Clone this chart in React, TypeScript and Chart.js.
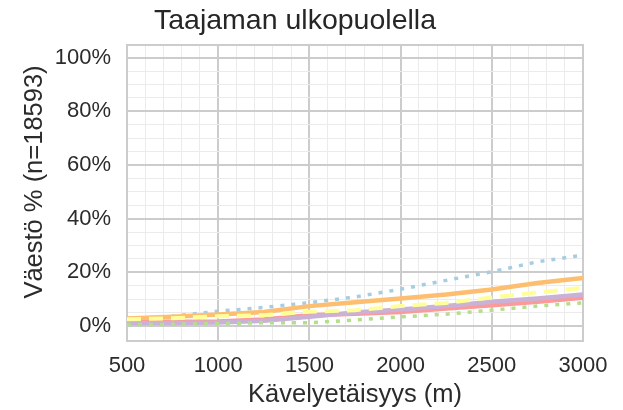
import React, { useEffect, useRef } from "react";
import { Chart, registerables } from "chart.js";

Chart.register(...registerables);

const titleText = "Taajaman ulkopuolella";
const xTitle = "Kävelyetäisyys (m)";
const yTitle = "Väestö % (n=18593)";

const distances = [500, 750, 1000, 1250, 1500, 1750, 2000, 2250, 2500, 2750, 3000];
const blueDotted = [2.6, 3.6, 5.5, 6.9, 8.7, 10.8, 13.7, 17.0, 20.2, 23.9, 26.4];
const orangeSolid = [2.8, 3.4, 4.3, 5.2, 7.4, 8.8, 10.2, 11.7, 13.6, 16.0, 17.9];
const yellowDashed = [2.5, 2.9, 3.6, 4.0, 5.3, 5.9, 7.4, 8.6, 10.6, 12.5, 14.2];
const purpleSolid = [1.0, 1.1, 1.3, 1.9, 3.4, 5.0, 6.1, 7.4, 9.0, 10.2, 11.7];
const pinkSolid = [1.3, 1.6, 1.7, 2.4, 4.0, 4.6, 5.2, 6.5, 7.7, 9.0, 10.5];
const greenDotted = [0.5, 0.6, 0.9, 1.2, 1.2, 2.2, 3.4, 4.4, 5.9, 7.4, 8.6];

const xMajorTicks = [500, 1000, 1500, 2000, 2500, 3000];
const yMajorTicks = [0, 20, 40, 60, 80, 100];

const X_MIN = 500;
const X_MAX = 3000;
const Y_MIN = -5.6;
const Y_MAX = 104.7;

const FONT = "'Liberation Sans', Arial, sans-serif";

function range(a: number, b: number, step: number) {
  const out: number[] = [];
  for (let v = a; v <= b + 1e-9; v += step) out.push(Math.round(v * 1000) / 1000);
  return out;
}

export default function App() {
  const ref = useRef<HTMLCanvasElement | null>(null);

  useEffect(() => {
    document.body.style.margin = "0";
    const canvas = ref.current;
    if (!canvas) return;

    const mk = (
      label: string,
      data: number[],
      color: string,
      width: number,
      dash: number[]
    ) => ({
      label,
      data: distances.map((d, i) => ({ x: d, y: data[i] })),
      borderColor: color,
      backgroundColor: color,
      borderWidth: width,
      borderDash: dash,
      borderCapStyle: "butt" as const,
      pointRadius: 0,
      fill: false,
      tension: 0,
    });

    const frame = {
      id: "frame",
      beforeDatasetsDraw(chart: any) {
        const { ctx, chartArea } = chart;
        ctx.save();
        ctx.strokeStyle = "#cccccc";
        ctx.lineWidth = 2;
        ctx.strokeRect(
          chartArea.left,
          chartArea.top,
          chartArea.right - chartArea.left,
          chartArea.bottom - chartArea.top
        );
        ctx.restore();
      },
      afterDraw(chart: any) {
        const { ctx } = chart;
        ctx.save();
        ctx.fillStyle = "#262626";
        ctx.font = `28.5px ${FONT}`;
        ctx.textAlign = "center";
        ctx.textBaseline = "alphabetic";
        ctx.fillText(titleText, 295, 29);
        ctx.restore();

        ctx.save();
        ctx.fillStyle = "#2b2b2b";
        ctx.font = `25.5px ${FONT}`;
        ctx.textAlign = "center";
        ctx.textBaseline = "middle";
        ctx.translate(35, 182);
        ctx.rotate(-Math.PI / 2);
        ctx.fillText(yTitle, 0, 0);
        ctx.restore();
      },
    };

    const chart = new Chart(canvas, {
      type: "line",
      data: {
        datasets: [
          mk("yellow", yellowDashed, "#ffff99", 4, [14, 8]),
          mk("green", greenDotted, "#b2df8a", 3.5, [4, 7]),
          mk("purple", purpleSolid, "#cab2d6", 4.5, []),
          mk("pink", pinkSolid, "#fb9a99", 4.5, []),
          mk("orange", orangeSolid, "#fdbf6f", 4.5, []),
          mk("blue", blueDotted, "#a6cee3", 3.5, [4, 7]),
        ],
      },
      options: {
        animation: false,
        responsive: false,
        maintainAspectRatio: false,
        layout: { padding: { top: 45, right: 40, bottom: 0, left: 0 } },
        plugins: {
          legend: { display: false },
          tooltip: { enabled: false },
          title: { display: false },
        },
        scales: {
          x: {
            type: "linear",
            min: X_MIN,
            max: X_MAX,
            afterBuildTicks: (scale: any) => {
              scale.ticks = range(X_MIN, X_MAX, 100).map((v) => ({ value: v }));
            },
            afterFit: (scale: any) => {
              scale.height = 69;
            },
            grid: {
              drawTicks: false,
              color: (c: any) =>
                xMajorTicks.includes(c.tick?.value) ? "#cccccc" : "#ebebeb",
              lineWidth: (c: any) => (xMajorTicks.includes(c.tick?.value) ? 2 : 1),
            },
            border: { display: false },
            ticks: {
              autoSkip: false,
              maxRotation: 0,
              padding: 12,
              color: "#2b2b2b",
              font: { size: 22, family: FONT },
              callback: (v: any) => (xMajorTicks.includes(Number(v)) ? String(v) : ""),
            },
            title: {
              display: true,
              text: xTitle,
              color: "#2b2b2b",
              padding: { top: 0, bottom: 0 },
              font: { size: 25.5, family: FONT },
            },
          },
          y: {
            type: "linear",
            min: Y_MIN,
            max: Y_MAX,
            afterBuildTicks: (scale: any) => {
              scale.ticks = range(0, 100, 5).map((v) => ({ value: v }));
            },
            afterFit: (scale: any) => {
              scale.width = 127;
            },
            grid: {
              drawTicks: false,
              color: (c: any) =>
                yMajorTicks.includes(c.tick?.value) ? "#cccccc" : "#ebebeb",
              lineWidth: (c: any) => (yMajorTicks.includes(c.tick?.value) ? 2 : 1),
            },
            border: { display: false },
            ticks: {
              autoSkip: false,
              padding: 16,
              color: "#2b2b2b",
              font: { size: 22, family: FONT },
              callback: (v: any) => (yMajorTicks.includes(Number(v)) ? v + "%" : ""),
            },
            title: { display: false },
          },
        },
      },
      plugins: [frame],
    });

    return () => chart.destroy();
  }, []);

  return (
    <div style={{ width: 623, height: 410 }}>
      <canvas ref={ref} width={623} height={410} style={{ display: "block" }} />
    </div>
  );
}
